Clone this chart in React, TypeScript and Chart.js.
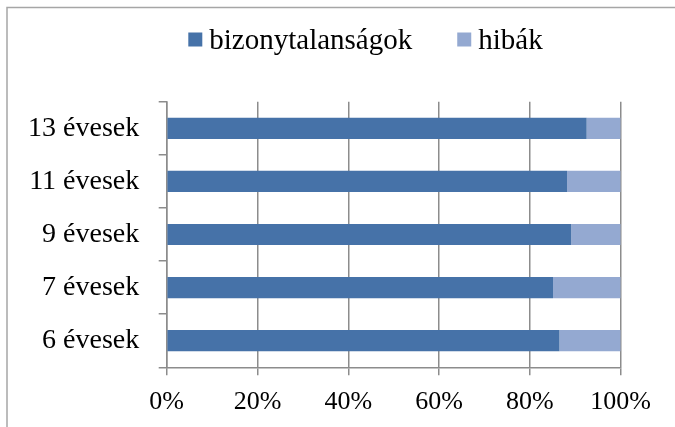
import React, { useEffect, useRef } from 'react';
import { Chart, registerables } from 'chart.js';

Chart.register(...registerables);

const categories = ['13 évesek', '11 évesek', '9 évesek', '7 évesek', '6 évesek'];
const seriesNames = ['bizonytalanságok', 'hibák'];
const bizonytalansagok = [92.5, 88.2, 89.1, 85.1, 86.5];
const hibak = [7.5, 11.8, 10.9, 14.9, 13.5];
const xTicks = [0, 20, 40, 60, 80, 100];

const FONT = '"Liberation Serif", "Times New Roman", Times, serif';
const GRID = '#8c8c8c';

const framePlugin = {
  id: 'frame',
  beforeDraw(chart: any) {
    const ctx = chart.ctx;
    ctx.save();
    ctx.strokeStyle = '#a6a6a6';
    ctx.lineWidth = 1.5;
    ctx.beginPath();
    ctx.moveTo(7, 427);
    ctx.lineTo(7, 7.5);
    ctx.lineTo(675, 7.5);
    ctx.stroke();
    ctx.restore();
  },
};

// Legend drawn on the canvas from the datasets' own labels and colours
const legendPlugin = {
  id: 'topLegend',
  afterDraw(chart: any) {
    const ctx = chart.ctx;
    ctx.save();
    ctx.font = `29px ${FONT}`;
    ctx.textBaseline = 'alphabetic';
    ctx.textAlign = 'left';
    let x = 188.3;
    chart.data.datasets.forEach((ds: any) => {
      ctx.fillStyle = ds.backgroundColor;
      ctx.fillRect(x, 32.5, 14, 14);
      ctx.fillStyle = '#000';
      ctx.fillText(ds.label, x + 21, 48.5);
      x += 21 + ctx.measureText(ds.label).width + 45;
    });
    ctx.restore();
  },
};

export default function App() {
  const ref = useRef<HTMLCanvasElement | null>(null);

  useEffect(() => {
    if (!ref.current) return;
    const chart = new Chart(ref.current, {
      type: 'bar',
      data: {
        labels: categories,
        datasets: [
          {
            label: seriesNames[0],
            data: bizonytalansagok,
            backgroundColor: '#4672a8',
            categoryPercentage: 1,
            barPercentage: 0.4,
          },
          {
            label: seriesNames[1],
            data: hibak,
            backgroundColor: '#94a9d1',
            categoryPercentage: 1,
            barPercentage: 0.4,
          },
        ],
      },
      options: {
        indexAxis: 'y',
        responsive: false,
        animation: false,
        layout: { padding: { left: 0, right: 54.3, top: 101.7, bottom: 0 } },
        plugins: {
          legend: { display: false },
          tooltip: { enabled: false },
        },
        scales: {
          x: {
            stacked: true,
            min: 0,
            max: 100,
            afterBuildTicks: (s: any) => {
              s.ticks = xTicks.map((v) => ({ value: v }));
            },
            ticks: {
              callback: (v: any) => v + '%',
              color: '#000',
              font: { family: FONT, size: 26 },
              padding: 11,
              maxRotation: 0,
              autoSkip: false,
            },
            grid: { color: GRID, lineWidth: 1.5, tickLength: 8, drawOnChartArea: true },
            border: { color: GRID, width: 1.5 },
            afterFit: (s: any) => {
              s.height = 59.7;
            },
          },
          y: {
            stacked: true,
            ticks: {
              color: '#000',
              font: { family: FONT, size: 28 },
              padding: 19.4,
            },
            grid: { color: GRID, lineWidth: 1.5, tickLength: 8, drawOnChartArea: false, offset: true },
            border: { color: GRID, width: 1.5 },
            afterFit: (s: any) => {
              s.width = 166.7;
            },
          },
        },
      } as any,
      plugins: [framePlugin, legendPlugin],
    });
    return () => chart.destroy();
  }, []);

  return (
    <div style={{ position: 'absolute', left: 0, top: 0, width: 675, height: 427, background: '#fff' }}>
      <canvas ref={ref} width={675} height={427} style={{ width: 675, height: 427, display: 'block' }} />
    </div>
  );
}
